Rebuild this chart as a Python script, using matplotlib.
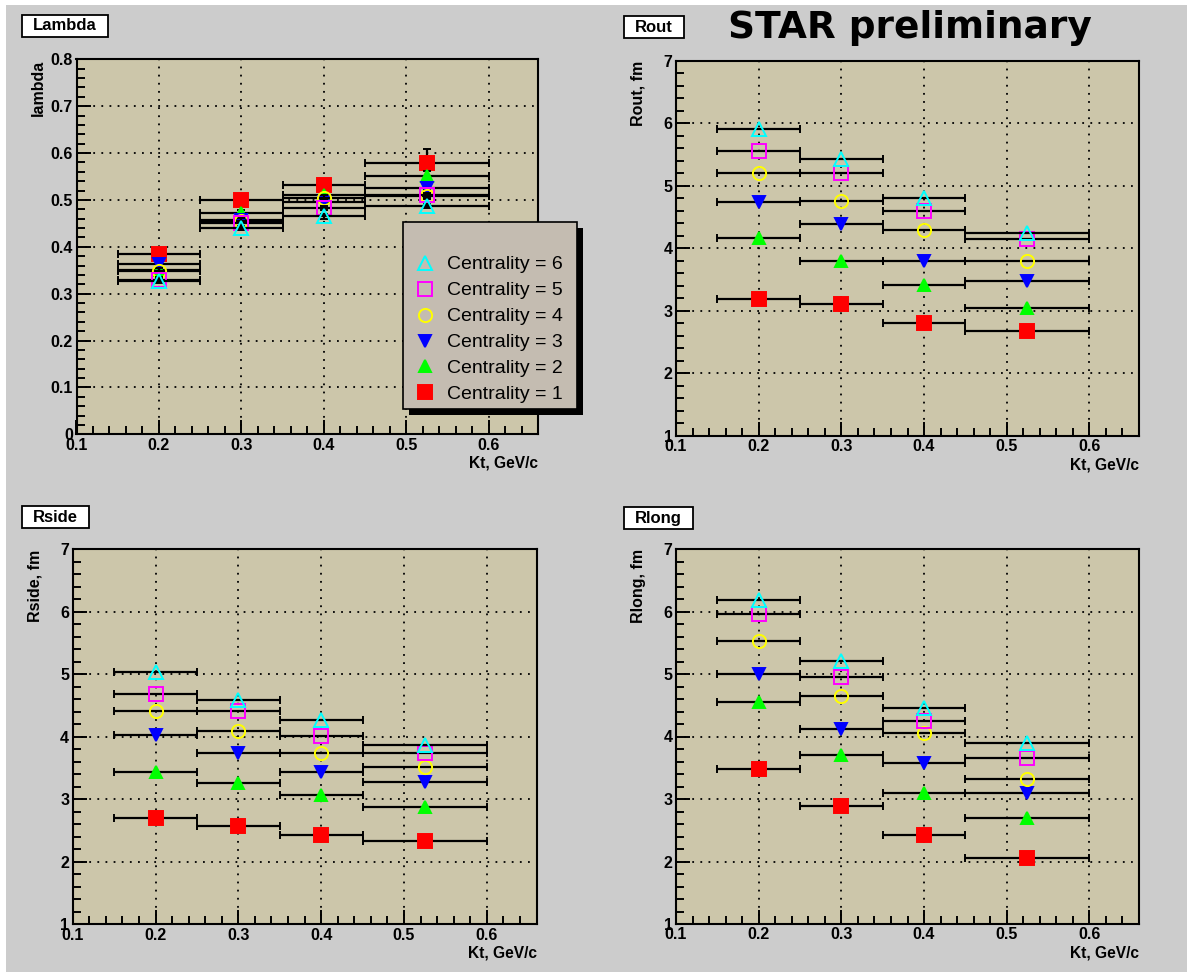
import matplotlib
matplotlib.use('Agg')
import matplotlib.pyplot as plt
import matplotlib as mpl
from matplotlib.ticker import MultipleLocator, FormatStrFormatter
import numpy as np

## kt bins: centres and edges
kt = [0.2, 0.3, 0.4, 0.525]
kt_lo = [0.15, 0.25, 0.35, 0.45]
kt_hi = [0.25, 0.35, 0.45, 0.60]
centralities = [1, 2, 3, 4, 5, 6]

## rows are centrality 1..6, columns the kt bins
lambda_vals = [
    [0.385, 0.500, 0.532, 0.578],
    [0.350, 0.473, 0.510, 0.551],
    [0.363, 0.458, 0.496, 0.526],
    [0.349, 0.456, 0.505, 0.508],
    [0.330, 0.450, 0.483, 0.510],
    [0.327, 0.440, 0.465, 0.487],
]
lambda_errs = [
    [0.005, 0.005, 0.005, 0.030],
    [0.005, 0.005, 0.005, 0.010],
    [0.005, 0.005, 0.005, 0.005],
    [0.005, 0.005, 0.005, 0.005],
    [0.005, 0.005, 0.005, 0.005],
    [0.005, 0.005, 0.005, 0.005],
]
rout_vals = [
    [3.19, 3.11, 2.81, 2.67],
    [4.17, 3.80, 3.42, 3.05],
    [4.74, 4.39, 3.79, 3.48],
    [5.21, 4.76, 4.30, 3.80],
    [5.56, 5.21, 4.60, 4.15],
    [5.91, 5.43, 4.81, 4.25],
]
rside_vals = [
    [2.70, 2.57, 2.43, 2.33],
    [3.44, 3.26, 3.07, 2.88],
    [4.03, 3.74, 3.44, 3.28],
    [4.41, 4.09, 3.74, 3.52],
    [4.68, 4.41, 4.01, 3.74],
    [5.03, 4.59, 4.27, 3.87],
]
rlong_vals = [
    [3.48, 2.89, 2.43, 2.06],
    [4.55, 3.71, 3.10, 2.70],
    [5.00, 4.12, 3.58, 3.10],
    [5.53, 4.65, 4.06, 3.32],
    [5.96, 4.95, 4.25, 3.66],
    [6.18, 5.21, 4.46, 3.90],
]

## marker style per centrality
colors = ['#ff0000', '#00ff00', '#0000ff', '#ffff00', '#ff00ff', '#00ffff']
markers = ['s', '^', 'v', 'o', 's', '^']
filled = [True, True, True, False, False, False]
msizes = [9.5, 8, 9, 9.5, 10, 10]

W, H = 1196, 976
PAD_BG = '#cccccc'
AXES_BG = '#ccc6aa'
LEG_BG = '#c4bcb1'

mpl.rcParams |= {
    'font.family': ['Liberation Sans', 'DejaVu Sans'],
    'font.weight': 'bold',
    'axes.labelweight': 'bold',
    'axes.linewidth': 1.5,
}

fig = plt.figure(figsize=(W / 100, H / 100), dpi=100, facecolor='white')
## grey pad behind everything
fig.patches.append(mpl.patches.Rectangle(
    (6 / W, 1 - 972 / H), (1187 - 6) / W, (972 - 5) / H,
    transform=fig.transFigure, facecolor=PAD_BG, edgecolor='none', zorder=-5))


def px_rect(left, right, top, bottom):
    """Axes rectangle in figure fractions from pixel edges."""
    return [left / W, 1 - bottom / H, (right - left) / W, (bottom - top) / H]


def draw_panel(rect, vals, ylim, ystep, yminor, ylabel, errs=None):
    ax = fig.add_axes(rect)
    ax.set_facecolor(AXES_BG)
    xerr = [np.subtract(kt, kt_lo), np.subtract(kt_hi, kt)]
    handles = []
    for i, c in enumerate(centralities):
        cont = ax.errorbar(
            kt, vals[i], xerr=xerr,
            yerr=None if errs is None else errs[i],
            fmt=markers[i], ms=msizes[i],
            mfc=colors[i] if filled[i] else 'none',
            mec=colors[i], mew=1.4,
            ecolor='black', elinewidth=1.6, capsize=3, capthick=1.6,
            zorder=3 + i, label=f'Centrality = {c}')
        handles.append(cont[0])
    ## axes ranges and ticks
    ax.set_xlim(0.1, 0.66)
    ax.set_ylim(*ylim)
    ax.set_xticks(np.arange(0.1, 0.61, 0.1))
    ax.set_yticks(np.arange(ylim[0], ylim[1] + ystep / 2, ystep))
    ax.xaxis.set_minor_locator(MultipleLocator(0.02))
    ax.yaxis.set_minor_locator(MultipleLocator(yminor))
    ax.xaxis.set_major_formatter(FormatStrFormatter('%g'))
    ax.yaxis.set_major_formatter(FormatStrFormatter('%g'))
    ax.tick_params(which='both', direction='in', top=False, right=False,
                   width=1.4, labelsize=11.5)
    ax.tick_params(which='major', length=10)
    ax.tick_params(which='minor', length=6)
    ax.tick_params(axis='x', pad=2.5)
    ax.tick_params(axis='y', pad=2.5)
    ax.grid(True, which='major', color='black', linestyle=(0, (1, 3.5)), linewidth=1.3)
    ## axis titles
    width_px = rect[2] * W
    height_px = rect[3] * H
    ax.set_xlabel('Kt, GeV/c', fontsize=11.2, loc='right')
    ax.xaxis.set_label_coords(1.0, -29 / height_px)
    ax.xaxis.label.set_va('center')
    ax.set_ylabel(ylabel, fontsize=11.5, loc='top')
    ax.yaxis.set_label_coords(-38 / width_px, 1.0)
    ax.yaxis.label.set_va('center')
    return ax, handles


ax_l, handles = draw_panel(px_rect(76.5, 538.4, 59.3, 434.3), lambda_vals,
                           (0, 0.8), 0.1, 0.02, 'lambda', errs=lambda_errs)
ax_o, _ = draw_panel(px_rect(676, 1139, 61, 435.7), rout_vals,
                     (1, 7), 1, 0.2, 'Rout, fm')
ax_s, _ = draw_panel(px_rect(72.7, 536.5, 549.3, 924.3), rside_vals,
                     (1, 7), 1, 0.2, 'Rside, fm')
ax_g, _ = draw_panel(px_rect(676, 1139, 549, 924), rlong_vals,
                     (1, 7), 1, 0.2, 'Rlong, fm')

## legend box with a hard black shadow
bx0, by0, bw, bh = 0.707, 0.0675, 0.3766, 0.4985
ax_l.add_patch(mpl.patches.Rectangle(
    (bx0 + 0.013, by0 - 0.016), bw, bh, transform=ax_l.transAxes,
    facecolor='black', edgecolor='none', clip_on=False, zorder=10))
ax_l.add_patch(mpl.patches.Rectangle(
    (bx0, by0), bw, bh, transform=ax_l.transAxes,
    facecolor=LEG_BG, edgecolor='black', lw=1.2, clip_on=False, zorder=10.5))
leg = ax_l.legend(
    handles[::-1], [f'Centrality = {c}' for c in centralities[::-1]],
    loc='upper left', bbox_to_anchor=(0.7335, 0.476),
    frameon=False, prop={'size': 14, 'weight': 'normal'},
    handlelength=1.0, handletextpad=0.63, labelspacing=0.43,
    borderpad=0, borderaxespad=0)
leg.set_zorder(11)

## panel names in framed boxes
titles = [('Lambda', 22, 26), ('Rout', 624, 27), ('Rside', 22, 517), ('Rlong', 624, 518)]
title_texts = []
for name, left, yc in titles:
    t = fig.text((left + 11) / W, 1 - yc / H, name, fontsize=12,
                 ha='left', va='center', zorder=5)
    title_texts.append(t)

fig.text(910 / W, 1 - 38 / H, 'STAR preliminary', fontsize=27,
         family='DejaVu Sans', weight='bold', ha='center', va='baseline')

fig.canvas.draw()
renderer = fig.canvas.get_renderer()
for t, (name, left, yc) in zip(title_texts, titles):
    bb = t.get_window_extent(renderer)
    box_h = 22
    x0 = left
    x1 = bb.x1 + 11
    y0 = (H - yc) - box_h / 2
    fig.patches.append(mpl.patches.Rectangle(
        (x0, y0), x1 - x0, box_h, transform=mpl.transforms.IdentityTransform(),
        facecolor='white', edgecolor='black', lw=1.3, zorder=4))

fig.savefig('out.png', dpi=100, facecolor=fig.get_facecolor())
